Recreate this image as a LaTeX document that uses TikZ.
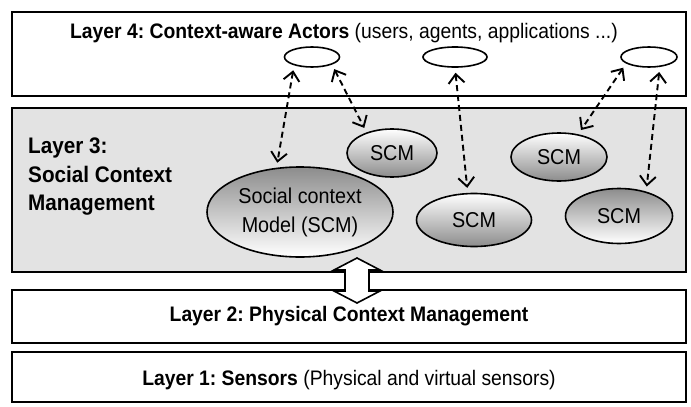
\documentclass[tikz,border=0pt]{standalone}
\usepackage{fontspec}
\setmainfont[FakeStretch=0.92]{Liberation Sans}
\usetikzlibrary{shapes.geometric, arrows.meta}
\frenchspacing

\begin{document}
\begin{tikzpicture}[x=1pt, y=-1pt]

\tikzset{layer/.style = {draw, line width=2pt, minimum width=674pt, inner sep=0pt}}
\tikzset{txt/.style = {inner sep=0pt, font=\fontsize{21}{24}\selectfont}}
\tikzset{actor/.style = {ellipse, draw, line width=1.6pt, fill=white, minimum height=20pt, inner sep=0pt}}
\tikzset{scm/.style = {ellipse, draw, line width=1.6pt, top color=gray!90, bottom color=white, inner sep=0pt, align=center, font=\fontsize{21.5}{29}\selectfont}}
\tikzset{scmup/.style = {scm, top color=white, bottom color=gray!90}}
\tikzset{link/.style = {<->, >={Straight Barb[length=9pt,width=16pt]}, dash pattern=on 6pt off 4pt, line width=1.9pt, shorten <=5pt, shorten >=5pt}}

\useasboundingbox (0,0) rectangle (691,407);

%layers
\node[layer, minimum height=84pt] (l4) at (349,54) {};
\node[layer, minimum height=164pt, fill=gray!22] (l3) at (349,190) {};
\node[layer, minimum height=53pt] (l2) at (349,316.5) {};
\node[layer, minimum height=50pt] (l1) at (349,377) {};
\node[txt] (t4) at (344,33) {\textbf{Layer 4: Context-aware Actors} (users, agents, applications ...)};
\node[txt, anchor=west, align=left, font=\bfseries\fontsize{22.5}{28.5}\selectfont] (t3) at (28,177) {Layer 3:\\Social Context\\Management};
\node[txt, font=\bfseries\fontsize{21}{24}\selectfont] (t2) at (349,316) {Layer 2: Physical Context Management};
\node[txt] (t1) at (349,380) {\textbf{Layer 1: Sensors} (Physical and virtual sensors)};

%actors
\node[actor, minimum width=55pt] (e1) at (312,57) {};
\node[actor, minimum width=64pt] (e2) at (455,57) {};
\node[actor, minimum width=56pt] (e3) at (649,57) {};

%models
\node[scm, minimum width=186pt, minimum height=90pt] (scm) at (300,212) {Social context\\Model (SCM)};
\node[scmup, minimum width=90pt, minimum height=48pt] (sa) at (392,153) {SCM};
\node[scmup, minimum width=115pt, minimum height=53pt] (sc) at (474,220) {SCM};
\node[scmup, minimum width=96pt, minimum height=48pt] (sd) at (559,157) {SCM};
\node[scm, minimum width=107pt, minimum height=55pt] (se) at (619,216) {SCM};

%links
\draw[link] (e1.205) -- (scm.118);
\draw[link] (e1.339) -- (sa.141);
\draw[link] (e2.south) -- (sc.103);
\draw[link] (e3.196) -- (sd.50);
\draw[link] (e3.317) -- (se.42);

%layer 3 <-> layer 2
\coordinate (up) at (357,258);
\coordinate (dn) at (357,303);
\draw[line width=1.6pt, fill=white] (up) -- ++(23,12) -- ++(-11,0) -- ++(0,21) -- ++(11,0) -- (dn)
  -- ++(-23,-12) -- ++(11,0) -- ++(0,-21) -- ++(-11,0) -- cycle;

\end{tikzpicture}
\end{document}
